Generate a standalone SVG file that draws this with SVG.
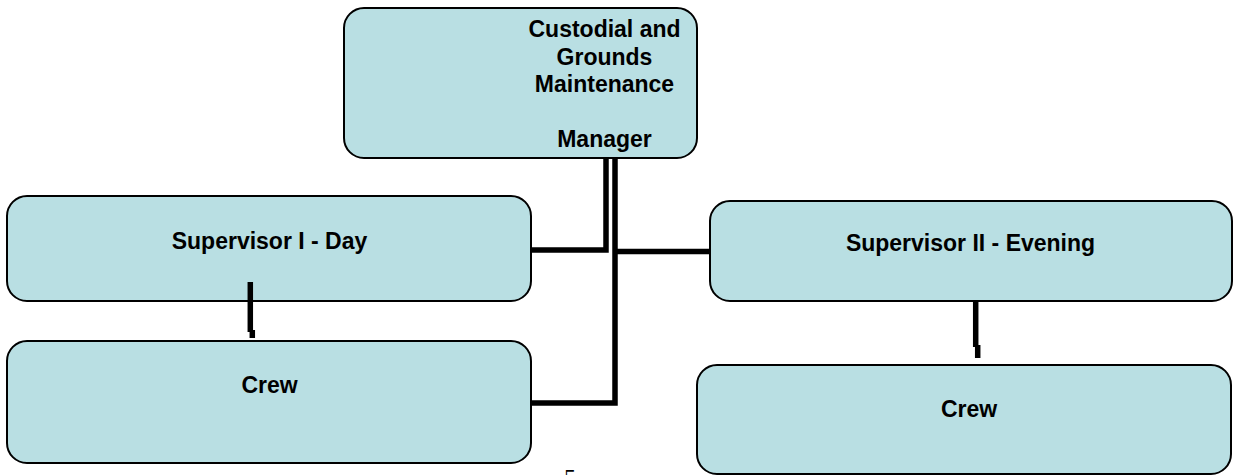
<svg xmlns="http://www.w3.org/2000/svg" width="1236" height="475" viewBox="0 0 1236 475">
  <style>
    .box { fill: #B9DFE3; stroke: #000; stroke-width: 2; }
    .lbl { font-family: "Liberation Sans", Arial, sans-serif; font-weight: bold; font-size: 23px; fill: #000; text-anchor: middle; }
    .wire { fill: none; stroke: #000; stroke-width: 5.5; stroke-linecap: butt; stroke-linejoin: miter; }
    .page { font-family: "Liberation Serif", "Times New Roman", serif; font-size: 24px; fill: #000; text-anchor: middle; }
  </style>
  <rect width="1236" height="475" fill="#fff"/>

  <g id="node-manager">
    <rect class="box" x="344" y="8" width="353" height="150" rx="20" ry="20"/>
    <text class="lbl" x="604.5" y="37">Custodial and</text>
    <text class="lbl" x="604.5" y="64.5">Grounds</text>
    <text class="lbl" x="604.5" y="92">Maintenance</text>
    <text class="lbl" x="604.5" y="147">Manager</text>
  </g>

  <g id="node-supervisor-day">
    <rect class="box" x="7" y="196" width="524" height="105" rx="20" ry="20"/>
    <text class="lbl" x="269.5" y="249">Supervisor I - Day</text>
  </g>

  <g id="node-supervisor-evening">
    <rect class="box" x="710" y="201" width="522" height="100" rx="20" ry="20"/>
    <text class="lbl" x="970.5" y="251">Supervisor II - Evening</text>
  </g>

  <g id="node-crew-day">
    <rect class="box" x="7" y="341" width="524" height="122" rx="20" ry="20"/>
    <text class="lbl" x="269.5" y="393">Crew</text>
  </g>

  <g id="node-crew-evening">
    <rect class="box" x="697" y="365" width="534" height="109" rx="20" ry="20"/>
    <text class="lbl" x="969" y="417">Crew</text>
  </g>

  <g id="connectors">
    <!-- manager to day supervisor -->
    <path class="wire" d="M 531 250 H 606 V 158"/>
    <!-- manager down to day crew -->
    <path class="wire" d="M 615 158 V 403 H 531"/>
    <!-- manager to evening supervisor -->
    <path class="wire" d="M 615 251.5 H 710"/>
    <!-- day supervisor to day crew -->
    <path class="wire" d="M 250.3 282 V 332"/>
    <path class="wire" d="M 252.3 330 V 338"/>
    <!-- evening supervisor to evening crew -->
    <path class="wire" d="M 975.7 301 V 347"/>
    <path class="wire" d="M 977.7 345 V 358"/>
  </g>

  <text class="page" x="570" y="485">5</text>
</svg>
